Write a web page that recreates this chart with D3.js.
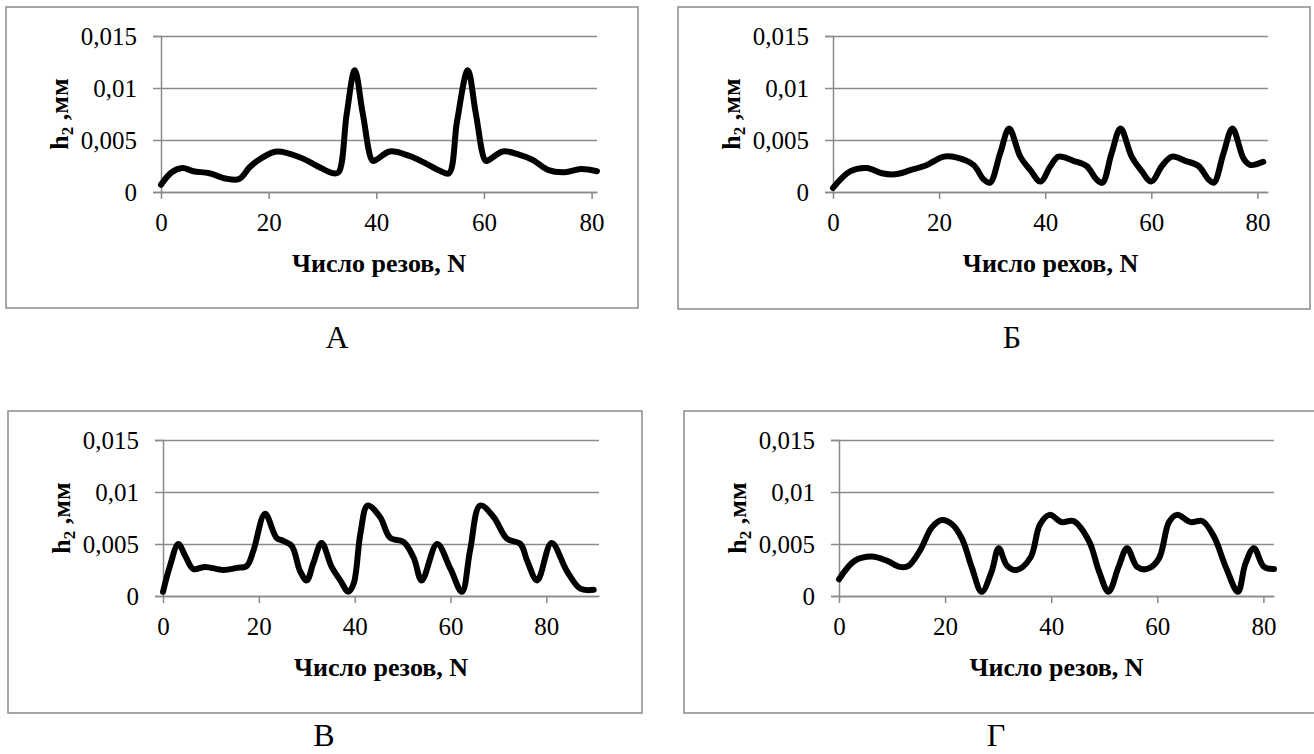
<!DOCTYPE html>
<html>
<head>
<meta charset="utf-8">
<script src="https://cdn.jsdelivr.net/npm/d3@7"></script>
<style>
  body { margin: 0; background: #fff; }
  svg { display: block; }
</style>
</head>
<body>
<svg width="1314" height="754"></svg>
<script>
// data
var nA = [0, 2, 4, 6, 9, 12, 14.5, 16.5, 18.5, 21.5, 26, 29, 32, 33, 34.5, 36, 37.5, 39.3, 40, 42.5, 46, 49, 52, 53.5, 55, 57, 58.5, 60.3, 61, 63.5, 66.5, 69, 72, 75, 78, 81];
var hA = [0.0007, 0.0019, 0.0023, 0.002, 0.0018, 0.0013, 0.00125, 0.0024, 0.0032, 0.0039, 0.0033, 0.0025, 0.0018, 0.0019, 0.0075, 0.0117, 0.0075, 0.003, 0.0031, 0.0039, 0.0035, 0.0028, 0.002, 0.0018, 0.0068, 0.0117, 0.0075, 0.003, 0.0031, 0.0039, 0.0036, 0.0031, 0.0021, 0.0019, 0.0022, 0.002];

var nB = [0, 3.3, 6.4, 9.2, 11.7, 14.6, 17.7, 20.9, 23.4, 26.5, 28.4, 29.6, 31.5, 33.2, 35.3, 37.2, 39.1, 41, 42.5, 45.3, 47.8, 49.7, 50.8, 52.5, 54.2, 56.3, 58.2, 60, 62, 63.9, 66.4, 68.9, 70.8, 71.8, 73.6, 75.3, 77.4, 78.6, 81.1];
var hB = [0.0004, 0.002, 0.0023, 0.0018, 0.0017, 0.0021, 0.0026, 0.0034, 0.0033, 0.0026, 0.0012, 0.0009, 0.0037, 0.0061, 0.0034, 0.0021, 0.001, 0.0025, 0.0034, 0.003, 0.0025, 0.0012, 0.0009, 0.0037, 0.0061, 0.0034, 0.002, 0.001, 0.0025, 0.0034, 0.003, 0.0025, 0.0012, 0.0009, 0.0037, 0.0061, 0.0032, 0.0026, 0.0029];

var nV = [0, 1.4, 3.2, 4.6, 6.3, 8.8, 12.6, 15.4, 17.5, 18.9, 21.3, 23.7, 25.1, 26.9, 28.6, 30, 31.4, 33.1, 35.2, 37, 38.7, 39.8, 41.2, 42.7, 45.3, 47.4, 50.2, 52.3, 54, 57.2, 60, 62.4, 64.1, 66.2, 69, 71.8, 74.6, 76, 78.1, 81.1, 84.3, 87.1, 89.9];
var hV = [0.0004, 0.0028, 0.005, 0.0039, 0.0026, 0.0028, 0.0025, 0.0027, 0.0029, 0.0044, 0.0079, 0.0056, 0.0053, 0.0048, 0.0024, 0.0015, 0.0032, 0.0051, 0.0028, 0.0015, 0.0004, 0.0012, 0.006, 0.0087, 0.0076, 0.0056, 0.0052, 0.0037, 0.0015, 0.005, 0.0026, 0.0004, 0.0044, 0.0087, 0.0076, 0.0055, 0.005, 0.0034, 0.0015, 0.0051, 0.0024, 0.0007, 0.0006];

var nG = [0, 3, 6.2, 9, 11.5, 13.1, 15.3, 17.5, 19.4, 21.3, 23.2, 25, 26.9, 28.8, 30.1, 31.7, 33.5, 36.1, 37.9, 39.7, 42, 44.2, 47.1, 49, 50.8, 52.7, 54.3, 56.2, 58.1, 60.3, 62.2, 63.7, 66.3, 68.5, 70.7, 72.9, 75.2, 76.6, 78.2, 80.1, 82];
var hG = [0.0016, 0.0034, 0.0038, 0.0034, 0.0028, 0.0029, 0.0044, 0.0066, 0.0073, 0.0069, 0.0055, 0.0028, 0.0004, 0.0024, 0.0046, 0.0029, 0.0025, 0.0037, 0.0069, 0.0078, 0.0071, 0.0072, 0.0053, 0.0024, 0.0004, 0.0028, 0.0046, 0.0028, 0.0026, 0.0036, 0.0071, 0.0078, 0.0071, 0.0072, 0.0057, 0.0028, 0.0004, 0.0031, 0.0046, 0.0028, 0.0026];

var yTicks = [0, 0.005, 0.01, 0.015];
var yTickLabels = ["0", "0,005", "0,01", "0,015"];
var xTicks = [0, 20, 40, 60, 80];
var xMax = [81, 82, 91, 82];
var xTitles = ["Число резов, N", "Число рехов, N", "Число резов, N", "Число резов, N"];
var letters = ["А", "Б", "В", "Г"];

// layout of each panel (frame box, plot box, letter position)
var layout = [
  { fx: 6,   fy: 7,   fw: 632, fh: 301, px: 161, pw: 436, py: 36,  ph: 156, lx: 337,  ly: 348 },
  { fx: 678, fy: 7,   fw: 632, fh: 302, px: 833, pw: 435, py: 36,  ph: 156, lx: 1012, ly: 348 },
  { fx: 8,   fy: 411, fw: 634, fh: 302, px: 163, pw: 436, py: 440, ph: 156, lx: 324,  ly: 746 },
  { fx: 684, fy: 411, fw: 640, fh: 302, px: 839, pw: 435, py: 440, ph: 156, lx: 996,  ly: 746 }
];

var series = [[nA, hA], [nB, hB], [nV, hV], [nG, hG]];

var svg = d3.select("svg");
var grey = "#8a8a8a";
var serif = "Liberation Serif";

layout.forEach(function(L, i) {
  var x = d3.scaleLinear().domain([0, xMax[i]]).range([L.px, L.px + L.pw]);
  var y = d3.scaleLinear().domain([0, 0.015]).range([L.py + L.ph, L.py]);

  // outer frame
  svg.append("rect")
    .attr("x", L.fx).attr("y", L.fy)
    .attr("width", L.fw).attr("height", L.fh)
    .attr("fill", "none").attr("stroke", grey).attr("stroke-width", 1.5);

  // gridlines
  svg.append("g")
    .attr("transform", "translate(" + L.px + ",0)")
    .call(d3.axisLeft(y).tickValues(yTicks).tickSize(-L.pw).tickFormat(""))
    .call(function(g) {
      g.select(".domain").remove();
      g.selectAll("line").attr("stroke", grey).attr("stroke-width", 1.5);
    });

  // y axis with labels
  svg.append("g")
    .attr("transform", "translate(" + L.px + ",0)")
    .call(d3.axisLeft(y).tickValues(yTicks).tickSize(8).tickPadding(16)
      .tickFormat(function(d, k) { return yTickLabels[k]; }))
    .call(function(g) {
      g.select(".domain").attr("stroke", grey).attr("stroke-width", 1.5);
      g.selectAll("line").attr("stroke", grey).attr("stroke-width", 1.5);
      g.selectAll("text").style("font-family", serif).style("font-size", "25px").attr("fill", "#000");
    });

  // x axis
  svg.append("g")
    .attr("transform", "translate(0," + (L.py + L.ph) + ")")
    .call(d3.axisBottom(x).tickValues(xTicks).tickSize(7).tickPadding(14).tickSizeOuter(0))
    .call(function(g) {
      g.select(".domain").attr("stroke", grey).attr("stroke-width", 1.5);
      g.selectAll("line").attr("stroke", grey).attr("stroke-width", 1.5);
      g.selectAll("text").style("font-family", serif).style("font-size", "25px").attr("fill", "#000");
    });

  // the curve
  var pts = series[i][0].map(function(n, k) { return [n, series[i][1][k]]; });
  var line = d3.line()
    .x(function(d) { return x(d[0]); })
    .y(function(d) { return y(d[1]); })
    .curve(d3.curveCatmullRom.alpha(0.5));
  svg.append("path")
    .datum(pts)
    .attr("d", line)
    .attr("fill", "none")
    .attr("stroke", "#000")
    .attr("stroke-width", 6)
    .attr("stroke-linejoin", "round")
    .attr("stroke-linecap", "round");

  // x title
  svg.append("text")
    .attr("x", L.px + L.pw / 2)
    .attr("y", L.py + L.ph + 80)
    .attr("text-anchor", "middle")
    .style("font-family", serif)
    .style("font-size", "26px")
    .style("font-weight", "bold")
    .text(xTitles[i]);

  // y title h2 ,мм
  var yt = svg.append("text")
    .attr("transform", "translate(" + (L.px - 93) + "," + (L.py + L.ph / 2) + ") rotate(-90)")
    .attr("text-anchor", "middle")
    .style("font-family", serif)
    .style("font-size", "26px")
    .style("font-weight", "bold");
  yt.append("tspan").text("h");
  yt.append("tspan").style("font-size", "17px").attr("dy", 5).text("2");
  yt.append("tspan").attr("dy", -5).text(" ,мм");

  // panel letter
  svg.append("text")
    .attr("x", L.lx).attr("y", L.ly)
    .attr("text-anchor", "middle")
    .style("font-family", serif)
    .style("font-size", "32px")
    .text(letters[i]);
});
</script>
</body>
</html>
